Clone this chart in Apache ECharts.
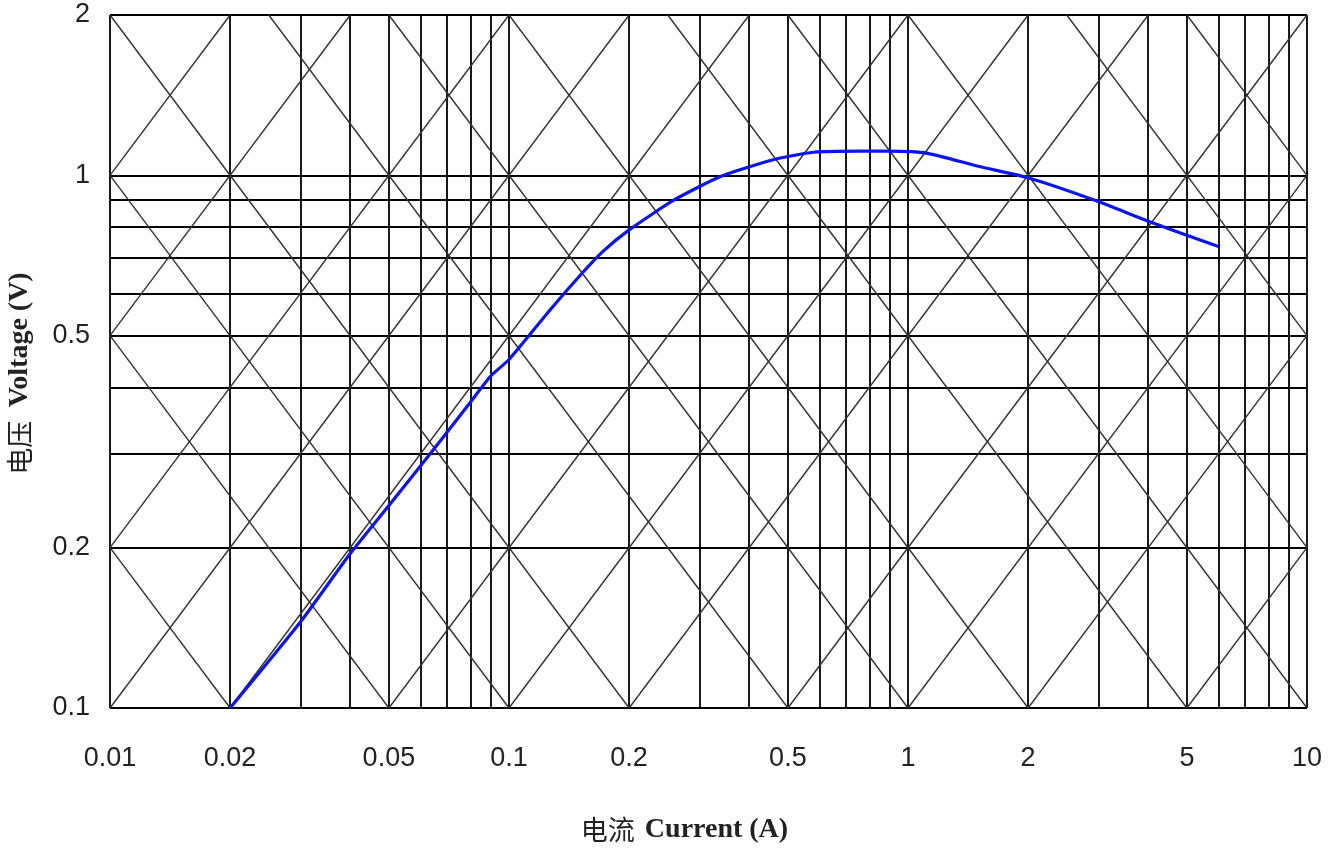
<!DOCTYPE html>
<html>
<head>
<meta charset="utf-8">
<script src="https://cdn.jsdelivr.net/npm/echarts@6/dist/echarts.min.js"></script>
<style>
  html, body { margin: 0; padding: 0; background: #fff; }
  #chart { width: 1339px; height: 850px; }
</style>
</head>
<body>
<div id="chart"></div>
<script>
// curve: current (A) vs voltage (V)
const current = [0.02, 0.03, 0.04, 0.05, 0.067, 0.08, 0.09, 0.1, 0.127, 0.153, 0.172, 0.2, 0.26, 0.34, 0.46, 0.58, 0.75, 0.89, 1.12, 1.5, 2, 3, 4, 6];
const voltage = [0.1, 0.145, 0.195, 0.24, 0.316, 0.375, 0.42, 0.451, 0.56, 0.657, 0.72, 0.79, 0.9, 0.996, 1.07, 1.105, 1.11, 1.11, 1.1, 1.04, 0.99, 0.893, 0.82, 0.735];

// tick labels
const xLabels = [0.01, 0.02, 0.05, 0.1, 0.2, 0.5, 1, 2, 5, 10];
const yLabels = [0.1, 0.2, 0.5, 1, 2];

// graph paper lines
const xGrid = [0.01, 0.02, 0.03, 0.04, 0.05, 0.06, 0.07, 0.08, 0.09,
               0.1, 0.2, 0.3, 0.4, 0.5, 0.6, 0.7, 0.8, 0.9,
               1, 2, 3, 4, 5, 6, 7, 8, 9, 10];
const yGrid = [0.1, 0.2, 0.3, 0.4, 0.5, 0.6, 0.7, 0.8, 0.9, 1, 2];

// constant resistance lines (rising) and constant power lines (falling), as end points
const resistanceLines = [
    [[5, 0.1], [10, 0.2]],
    [[2, 0.1], [10, 0.5]],
    [[1, 0.1], [10, 1]],
    [[0.5, 0.1], [10, 2]],
    [[0.2, 0.1], [4, 2]],
    [[0.1, 0.1], [2, 2]],
    [[0.05, 0.1], [1, 2]],
    [[0.02, 0.1], [0.4, 2]],
    [[0.01, 0.1], [0.2, 2]],
    [[0.01, 0.2], [0.1, 2]],
    [[0.01, 0.5], [0.04, 2]],
    [[0.01, 1], [0.02, 2]]
];
const powerLines = [
    [[0.01, 0.2], [0.02, 0.1]],
    [[0.01, 0.5], [0.05, 0.1]],
    [[0.01, 1], [0.1, 0.1]],
    [[0.01, 2], [0.2, 0.1]],
    [[0.025, 2], [0.5, 0.1]],
    [[0.05, 2], [1, 0.1]],
    [[0.1, 2], [2, 0.1]],
    [[0.25, 2], [5, 0.1]],
    [[0.5, 2], [10, 0.1]],
    [[1, 2], [10, 0.2]],
    [[2.5, 2], [10, 0.5]],
    [[5, 2], [10, 1]]
];

const xMin = 0.01, xMax = 10, yMin = 0.1, yMax = 2;

const chart = echarts.init(document.getElementById('chart'));

const gridSegments = [];
xGrid.forEach(v => gridSegments.push({ coords: [[v, yMin], [v, yMax]] }));
yGrid.forEach(v => gridSegments.push({ coords: [[xMin, v], [xMax, v]] }));

const diagSegments = resistanceLines.concat(powerLines).map(s => ({ coords: s }));

const fmt = v => String(Number(Number(v).toPrecision(3)));

const option = {
    backgroundColor: '#fff',
    animation: false,
    grid: { left: 110, top: 15, width: 1197, height: 693, show: false, outerBoundsMode: 'none', containLabel: false },
    xAxis: {
        type: 'log',
        logBase: 10,
        min: xMin,
        max: xMax,
        name: '{cn|电流}   {en|Current (A)}',
        nameLocation: 'middle',
        nameGap: 108,
        nameTextStyle: {
            padding: [0, 48, 0, 0],
            rich: {
                cn: { fontFamily: 'Noto Sans CJK SC', fontSize: 27, color: '#222' },
                en: { fontFamily: 'Liberation Serif', fontWeight: 'bold', fontSize: 28, color: '#222' }
            }
        },
        axisLine: { show: false },
        axisTick: { show: false },
        splitLine: { show: false },
        minorTick: { show: false },
        axisLabel: {
            customValues: xLabels,
            formatter: fmt,
            margin: 37,
            fontFamily: 'Liberation Sans',
            fontSize: 27,
            color: '#222'
        }
    },
    yAxis: {
        type: 'log',
        logBase: 10,
        min: yMin,
        max: yMax,
        name: '{cn|电压}    {en|Voltage (V)}',
        nameLocation: 'middle',
        nameGap: 76,
        nameRotate: 90,
        nameTextStyle: {
            padding: [0, 24, 0, 0],
            rich: {
                cn: { fontFamily: 'Noto Sans CJK SC', fontSize: 27, color: '#222' },
                en: { fontFamily: 'Liberation Serif', fontWeight: 'bold', fontSize: 28, color: '#222' }
            }
        },
        axisLine: { show: false },
        axisTick: { show: false },
        splitLine: { show: false },
        axisLabel: {
            customValues: yLabels,
            formatter: fmt,
            margin: 20,
            fontFamily: 'Liberation Sans',
            fontSize: 27,
            color: '#222'
        }
    },
    series: [
        {
            name: 'grid',
            type: 'lines',
            coordinateSystem: 'cartesian2d',
            silent: true,
            lineStyle: { color: '#000', width: 1.8, opacity: 1 },
            data: gridSegments,
            z: 1
        },
        {
            name: 'R / P',
            type: 'lines',
            coordinateSystem: 'cartesian2d',
            silent: true,
            lineStyle: { color: '#333', width: 1.4, opacity: 1 },
            data: diagSegments,
            z: 2
        },
        {
            name: 'V-I',
            type: 'line',
            smooth: 0.2,
            symbol: 'none',
            lineStyle: { color: '#0a14f5', width: 3.2 },
            data: current.map((c, i) => [c, voltage[i]]),
            z: 3
        }
    ]
};

chart.setOption(option);
</script>
</body>
</html>
